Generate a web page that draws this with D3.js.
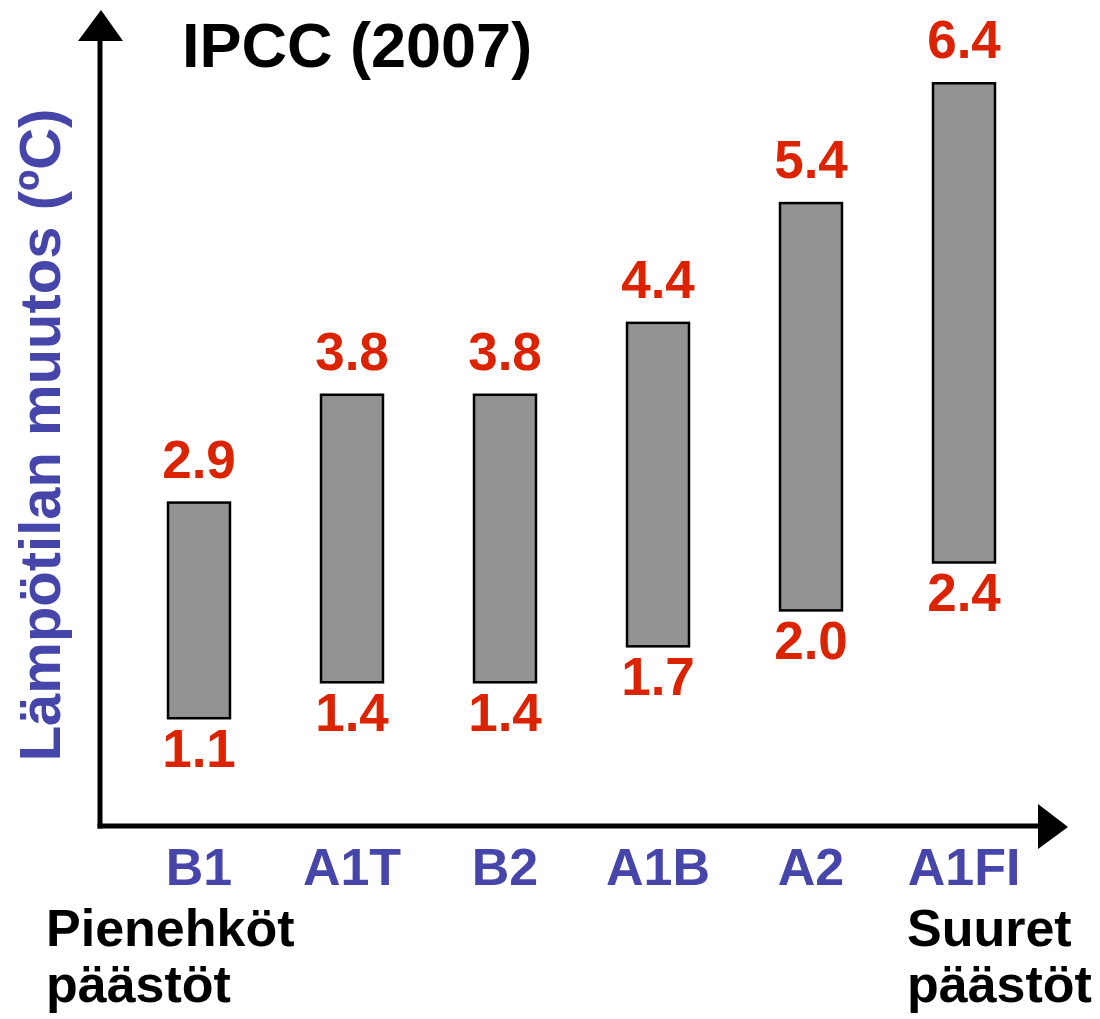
<!DOCTYPE html>
<html>
<head>
<meta charset="utf-8">
<script src="https://cdn.jsdelivr.net/npm/d3@7"></script>
<style>
  body { margin: 0; background: #fff; }
  text { font-family: 'Liberation Sans', Arial, sans-serif; font-weight: bold; }
</style>
</head>
<body>
<div class="chart"></div>
<script>
// IPCC 2007 scenarios, warming range (low .. high)
var scenarios = ['B1', 'A1T', 'B2', 'A1B', 'A2', 'A1FI'];
var lowValues = [1.1, 1.4, 1.4, 1.7, 2.0, 2.4];
var highValues = [2.9, 3.8, 3.8, 4.4, 5.4, 6.4];

var title = 'IPCC (2007)';
var yLabel = 'Lämpötilan muutos (ºC)';
var leftNote = ['Pienehköt', 'päästöt'];
var rightNote = ['Suuret', 'päästöt'];

var width = 1100;
var height = 1019;
var axisX = 100;
var axisY = 826;
var red = '#dc2300';
var blue = '#4646aa';

var svg = d3.select('.chart')
  .append('svg')
  .attr('width', width)
  .attr('height', height);

var xScale = d3.scaleBand()
  .domain(scenarios)
  .range([122.5, 1040.5])
  .paddingInner(0.595)
  .paddingOuter(0.2975);

var yScale = d3.scaleLinear()
  .domain([0, 7])
  .range([850, 11.4]);

var data = scenarios.map((s, i) => ({ name: s, low: lowValues[i], high: highValues[i] }));

// axes with arrow heads
svg.append('line')
  .attr('x1', axisX).attr('y1', 38)
  .attr('x2', axisX).attr('y2', axisY + 2.5)
  .style('stroke', '#000')
  .style('stroke-width', 5);

svg.append('line')
  .attr('x1', axisX - 2.5).attr('y1', axisY)
  .attr('x2', 1040).attr('y2', axisY)
  .style('stroke', '#000')
  .style('stroke-width', 5);

svg.append('path')
  .attr('d', 'M' + (axisX + 1) + ',10 L' + (axisX + 23) + ',41 L' + (axisX - 22) + ',41 Z')
  .style('fill', '#000');

svg.append('path')
  .attr('d', 'M1068,' + (axisY + 1) + ' L1038,' + (axisY - 22) + ' L1038,' + (axisY + 23) + ' Z')
  .style('fill', '#000');

// range bars
svg.selectAll('.bar')
  .data(data)
  .enter()
  .append('rect')
  .attr('class', 'bar')
  .attr('x', d => xScale(d.name))
  .attr('y', d => yScale(d.high))
  .attr('width', xScale.bandwidth())
  .attr('height', d => yScale(d.low) - yScale(d.high))
  .style('fill', '#939393')
  .style('stroke', '#000')
  .style('stroke-width', 2.5);

svg.selectAll('.hi')
  .data(data)
  .enter()
  .append('text')
  .attr('class', 'hi')
  .attr('x', d => xScale(d.name) + xScale.bandwidth() / 2)
  .attr('y', d => yScale(d.high) - 25)
  .style('text-anchor', 'middle')
  .style('font-size', '53px')
  .style('fill', red)
  .text(d => d.high.toFixed(1));

svg.selectAll('.lo')
  .data(data)
  .enter()
  .append('text')
  .attr('class', 'lo')
  .attr('x', d => xScale(d.name) + xScale.bandwidth() / 2)
  .attr('y', d => yScale(d.low) + 49)
  .style('text-anchor', 'middle')
  .style('font-size', '53px')
  .style('fill', red)
  .text(d => d.low.toFixed(1));

// scenario names
svg.selectAll('.cat')
  .data(scenarios)
  .enter()
  .append('text')
  .attr('class', 'cat')
  .attr('x', d => xScale(d) + xScale.bandwidth() / 2)
  .attr('y', 885)
  .style('text-anchor', 'middle')
  .style('font-size', '52px')
  .style('fill', blue)
  .text(d => d);

svg.append('text')
  .attr('x', 182)
  .attr('y', 67)
  .style('font-size', '63px')
  .style('fill', '#000')
  .text(title);

svg.append('text')
  .attr('transform', 'translate(60,435) rotate(-90)')
  .style('text-anchor', 'middle')
  .style('font-size', '58px')
  .style('fill', blue)
  .text(yLabel);

var notes = svg.append('g');
leftNote.forEach((t, i) => {
  notes.append('text')
    .attr('x', 46)
    .attr('y', 946 + i * 56)
    .style('font-size', '52px')
    .style('fill', '#000')
    .text(t);
});
rightNote.forEach((t, i) => {
  notes.append('text')
    .attr('x', 907)
    .attr('y', 946 + i * 56)
    .style('font-size', '52px')
    .style('fill', '#000')
    .text(t);
});
</script>
</body>
</html>
